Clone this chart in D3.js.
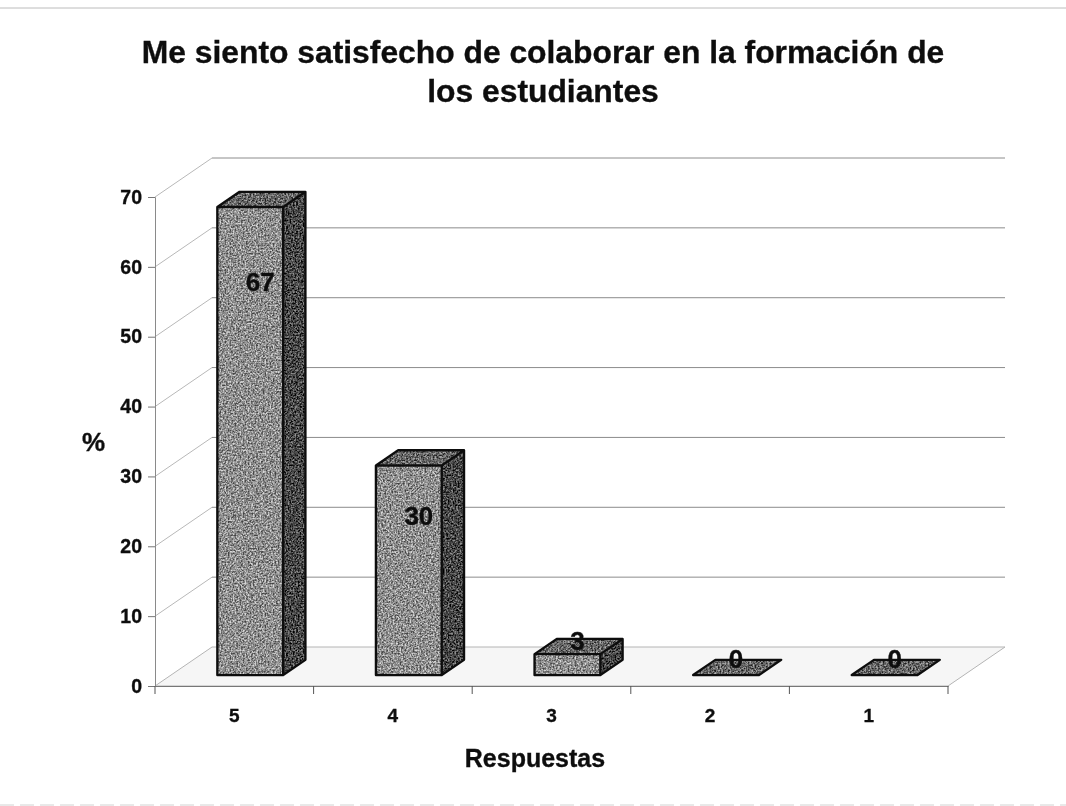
<!DOCTYPE html>
<html lang='en'>
  <head>
    <meta charset='utf-8'>
    <title>Me siento satisfecho</title>
    <script src='https://cdn.jsdelivr.net/npm/d3@7'></script>
    <style>
      html, body { margin: 0; padding: 0; background: #fff; }
      text { font-family: 'Liberation Sans', Arial, sans-serif; font-weight: bold; fill: #111; stroke: #111; stroke-width: 0.35px; }
    </style>
  </head>
  <body>
    <script>
      var categories = ['5', '4', '3', '2', '1'];
      var values = [67, 30, 3, 0, 0];
      // where the value labels sit, read in axis units
      var labelLevels = [57.9, 24.4, 6.5, 3.9, 3.9];
      var yTicks = [0, 10, 20, 30, 40, 50, 60, 70];
      var titleLines = ['Me siento satisfecho de colaborar en la formación de', 'los estudiantes'];

      var w = 1066, h = 806;
      var depthX = 57, depthY = -39;     // floor depth of the 3d box
      var barInset = 0.28;               // bars start this far into the floor
      var barDepth = 0.39;

      var svg = d3.select('body').append('svg')
        .attr('width', w).attr('height', h)
        .style('display', 'block');

      var defs = svg.append('defs');
      var grain = defs.append('filter').attr('id', 'grain')
        .attr('x', 0).attr('y', 0).attr('width', 1).attr('height', 1)
        .attr('color-interpolation-filters', 'sRGB');
      grain.append('feTurbulence')
        .attr('type', 'fractalNoise').attr('baseFrequency', 0.6)
        .attr('numOctaves', 2).attr('seed', 4).attr('result', 'n');
      grain.append('feColorMatrix').attr('in', 'n').attr('type', 'matrix')
        .attr('values', '2 0 0 0 -0.5  2 0 0 0 -0.5  2 0 0 0 -0.5  0 0 0 0 1')
        .attr('result', 'g');
      grain.append('feComposite').attr('in', 'SourceGraphic').attr('in2', 'g')
        .attr('operator', 'arithmetic')
        .attr('k1', 0).attr('k2', 1).attr('k3', 0.6).attr('k4', -0.3).attr('result', 'b');
      grain.append('feComposite').attr('in', 'b').attr('in2', 'SourceAlpha').attr('operator', 'in');

      defs.append('filter').attr('id', 'scan')
        .append('feGaussianBlur').attr('stdDeviation', 0.55);

      var x = d3.scaleBand().domain(categories).range([155, 948]);
      var y = d3.scaleLinear().domain([0, 70]).range([686, 197]);

      var chart = svg.append('g').attr('filter', 'url(#scan)');

      // edges of the scanned page
      chart.append('line').attr('x1', 0).attr('x2', w).attr('y1', 8).attr('y2', 8)
        .attr('stroke', '#bcbcbc');
      chart.append('line').attr('x1', 0).attr('x2', w).attr('y1', 805).attr('y2', 805)
        .attr('stroke', '#d2d2d2').attr('stroke-dasharray', '14 6');

      // floor
      var x0 = x.range()[0], x1 = x.range()[1], yBase = y(0);
      chart.append('polygon')
        .attr('points', [[x0, yBase], [x0 + depthX, yBase + depthY], [x1 + depthX, yBase + depthY], [x1, yBase]].join(' '))
        .attr('fill', '#f6f6f6').attr('stroke', '#b4b4b4').attr('stroke-width', 1);

      // gridlines on side and back wall
      chart.selectAll('.grid')
        .data(yTicks.slice(1))
        .enter().append('path')
        .attr('class', 'grid')
        .attr('d', function(d){
          return 'M' + (x0 + depthX) + ',' + (y(d) + depthY) + 'H' + (x1 + depthX);
        })
        .attr('fill', 'none').attr('stroke', '#8c8c8c').attr('stroke-width', 1);
      chart.selectAll('.diag')
        .data(yTicks.slice(1))
        .enter().append('line')
        .attr('class', 'diag')
        .attr('x1', x0).attr('y1', function(d){ return y(d); })
        .attr('x2', x0 + depthX).attr('y2', function(d){ return y(d) + depthY; })
        .attr('stroke', '#b8b8b8');

      // axes
      var yAxis = chart.append('g').attr('transform', 'translate(' + x0 + ',0)')
        .call(d3.axisLeft(y).tickValues(yTicks).tickSize(7).tickPadding(6));
      var xAxis = chart.append('g').attr('transform', 'translate(0,' + yBase + ')')
        .call(d3.axisBottom(x).tickSize(0).tickPadding(23));
      chart.selectAll('.xtick')
        .data(d3.range(categories.length + 1))
        .enter().append('line')
        .attr('class', 'xtick')
        .attr('x1', function(d){ return x0 + d * x.bandwidth(); })
        .attr('x2', function(d){ return x0 + d * x.bandwidth(); })
        .attr('y1', yBase).attr('y2', yBase + 8)
        .attr('stroke', '#555');
      yAxis.select('.domain').attr('stroke', '#8a8a8a');
      xAxis.select('.domain').attr('stroke', '#777');
      yAxis.selectAll('.tick line').attr('stroke', '#777');
      yAxis.attr('font-family', null);
      xAxis.attr('font-family', null);
      yAxis.selectAll('text').style('font-size', '19.5px');
      xAxis.selectAll('text').style('font-size', '19px');

      // bars
      var barW = x.bandwidth() * 0.415;
      var dx = depthX * barInset, dy = depthY * barInset;
      var bx = depthX * barDepth, by = depthY * barDepth;
      var bottom = yBase + dy;
      var barData = categories.map(function(c, i){
        var l = x(c) + x.bandwidth() / 2 - barW / 2 + dx;
        return { value: values[i], l: l, r: l + barW, t: bottom - (y(0) - y(values[i])) };
      });

      var bars = chart.selectAll('.bar')
        .data(barData)
        .enter().append('g').attr('class', 'bar');

      // side
      bars.filter(function(d){ return d.value > 0; }).append('polygon')
        .attr('points', function(d){
          return [[d.r, d.t], [d.r + bx, d.t + by], [d.r + bx, bottom + by], [d.r, bottom]].join(' ');
        })
        .attr('fill', '#464646').attr('filter', 'url(#grain)');
      // top
      bars.append('polygon')
        .attr('points', function(d){
          return [[d.l, d.t], [d.l + bx, d.t + by], [d.r + bx, d.t + by], [d.r, d.t]].join(' ');
        })
        .attr('fill', '#666').attr('filter', 'url(#grain)');
      // front
      bars.filter(function(d){ return d.value > 0; }).append('rect')
        .attr('x', function(d){ return d.l; })
        .attr('y', function(d){ return d.t; })
        .attr('width', barW)
        .attr('height', function(d){ return bottom - d.t; })
        .attr('fill', '#8e8e8e').attr('filter', 'url(#grain)');
      // outlines
      bars.append('path')
        .attr('d', function(d){
          return 'M' + d.l + ',' + d.t + 'L' + (d.l + bx) + ',' + (d.t + by) + 'H' + (d.r + bx) +
            'V' + (bottom + by) + 'L' + d.r + ',' + bottom + 'H' + d.l + 'Z' +
            'M' + d.l + ',' + d.t + 'H' + d.r + 'V' + bottom + 'M' + d.r + ',' + d.t + 'L' + (d.r + bx) + ',' + (d.t + by);
        })
        .attr('fill', 'none').attr('stroke', '#111').attr('stroke-width', 2.4).attr('stroke-linejoin', 'round');

      // value labels
      chart.selectAll('.val')
        .data(values)
        .enter().append('text')
        .attr('class', 'val')
        .text(function(d){ return d; })
        .attr('x', function(d, i){ return x(categories[i]) + x.bandwidth() / 2 + dx + 10; })
        .attr('y', function(d, i){ return y(labelLevels[i]); })
        .attr('dy', '0.36em')
        .attr('text-anchor', 'middle')
        .attr('font-size', 26);

      // titles, the scan stretches them a little sideways
      chart.selectAll('.title')
        .data(titleLines)
        .enter().append('text')
        .attr('class', 'title')
        .text(function(d){ return d; })
        .attr('transform', function(d, i){ return 'translate(543,' + (63 + i * 38.5) + ') scale(1.04,1)'; })
        .attr('text-anchor', 'middle')
        .attr('font-size', 30.6);

      chart.append('text').text('%')
        .attr('x', 93.5).attr('y', 451).attr('text-anchor', 'middle').attr('font-size', 26);
      chart.append('text').text('Respuestas')
        .attr('x', 535).attr('y', 767).attr('text-anchor', 'middle').attr('font-size', 25);
    </script>
  </body>
</html>
